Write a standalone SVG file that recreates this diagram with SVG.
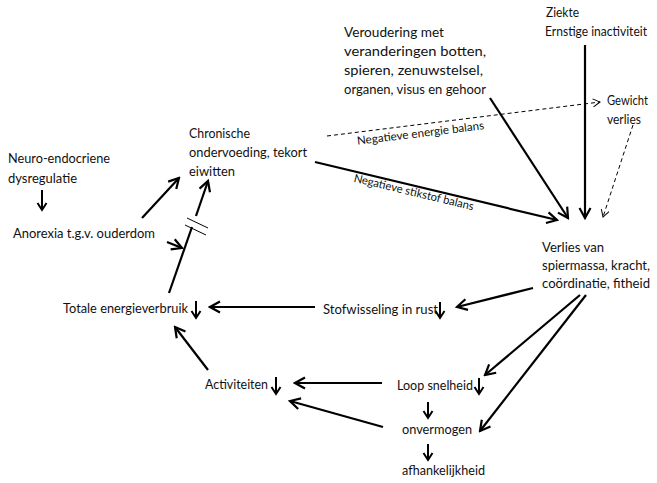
<svg xmlns="http://www.w3.org/2000/svg" width="657" height="483" viewBox="0 0 657 483">
<style>
text{font-family:Lato,"Open Sans","Liberation Sans",sans-serif;font-size:14px;fill:#111}
.lbl{font-size:11.5px}
.s{stroke:#000;stroke-width:2.2;fill:none;marker-end:url(#ah)}
.d{stroke:#000;stroke-width:1;stroke-dasharray:4 3;fill:none;marker-end:url(#ahd)}
.dn{stroke:#000;stroke-width:2;fill:none;marker-end:url(#ahs)}
.p{stroke:#000;stroke-width:2.2;fill:none}
.t{stroke:#000;stroke-width:1;fill:none}
</style>
<defs>
<marker id="ah" markerUnits="userSpaceOnUse" markerWidth="14" markerHeight="14" viewBox="-12 -7 14 14" refX="0" refY="0" orient="auto"><path d="M-10,-5.5 L0,0 L-10,5.5" fill="none" stroke="#000" stroke-width="2.2"/></marker>
<marker id="ahs" markerUnits="userSpaceOnUse" markerWidth="12" markerHeight="12" viewBox="-10 -6 12 12" refX="0" refY="0" orient="auto"><path d="M-7,-4.5 L0,0 L-7,4.5" fill="none" stroke="#000" stroke-width="2"/></marker>
<marker id="ahd" markerUnits="userSpaceOnUse" markerWidth="12" markerHeight="12" viewBox="-10 -6 12 12" refX="0" refY="0" orient="auto"><path d="M-7,-4 L0,0 L-7,4" fill="none" stroke="#000" stroke-width="1"/></marker>
</defs>
<g id="connectors">
<line class="dn" x1="42" y1="190" x2="42" y2="210"/>
<line class="s" x1="142" y1="218" x2="179" y2="178"/>
<line class="s" x1="167" y1="242" x2="182" y2="248"/>
<line class="p" x1="169" y1="293" x2="192" y2="227"/>
<line class="s" x1="196" y1="216" x2="208" y2="181"/>
<line class="t" x1="187" y1="218" x2="208" y2="228"/>
<line class="t" x1="185" y1="225" x2="206" y2="235"/>
<line class="d" x1="327" y1="136" x2="600" y2="102"/>
<line class="d" x1="633" y1="125" x2="603" y2="217"/>
<line class="s" x1="315" y1="162" x2="557" y2="220"/>
<line class="s" x1="490" y1="98" x2="568" y2="218"/>
<line class="s" x1="585" y1="45" x2="585" y2="218"/>
<line class="s" x1="533" y1="288" x2="457" y2="307"/>
<line class="s" x1="315" y1="307" x2="210" y2="307"/>
<line class="s" x1="208" y1="370" x2="175" y2="327"/>
<line class="s" x1="382" y1="383" x2="295" y2="383"/>
<line class="s" x1="383" y1="427" x2="290" y2="401"/>
<line class="s" x1="580" y1="295" x2="485" y2="375"/>
<line class="s" x1="586" y1="295" x2="480" y2="431"/>
<line class="dn" x1="428" y1="402" x2="428" y2="418"/>
<line class="dn" x1="428" y1="444" x2="428" y2="460"/>
<text class="lbl" transform="translate(421,137) rotate(-7)" text-anchor="middle" textLength="128" lengthAdjust="spacingAndGlyphs">Negatieve energie balans</text>
<text class="lbl" transform="translate(413,196) rotate(13.5)" text-anchor="middle" textLength="123" lengthAdjust="spacingAndGlyphs">Negatieve stikstof balans</text>
</g>
<g id="neuro"><text x="8" y="163" textLength="102" lengthAdjust="spacingAndGlyphs">Neuro-endocriene</text><text x="8" y="183" textLength="69" lengthAdjust="spacingAndGlyphs">dysregulatie</text></g>
<g id="anorexia"><text x="13" y="238" textLength="142" lengthAdjust="spacingAndGlyphs">Anorexia t.g.v. ouderdom</text></g>
<g id="chronische"><text x="189" y="138" textLength="61" lengthAdjust="spacingAndGlyphs">Chronische</text><text x="189" y="157" textLength="118" lengthAdjust="spacingAndGlyphs">ondervoeding, tekort</text><text x="189" y="176" textLength="46" lengthAdjust="spacingAndGlyphs">eiwitten</text></g>
<g id="veroudering"><text x="344" y="37" textLength="100" lengthAdjust="spacingAndGlyphs">Veroudering met</text><text x="344" y="56" textLength="142" lengthAdjust="spacingAndGlyphs">veranderingen botten,</text><text x="344" y="75" textLength="139" lengthAdjust="spacingAndGlyphs">spieren, zenuwstelsel,</text><text x="344" y="94" textLength="142" lengthAdjust="spacingAndGlyphs">organen, visus en gehoor</text></g>
<g id="ziekte"><text x="546" y="17" textLength="33" lengthAdjust="spacingAndGlyphs">Ziekte</text><text x="545" y="36" font-size="13" textLength="102" lengthAdjust="spacingAndGlyphs">Ernstige inactiviteit</text></g>
<g id="gewicht"><text x="607" y="105" textLength="41" lengthAdjust="spacingAndGlyphs">Gewicht</text><text x="607" y="124" textLength="34" lengthAdjust="spacingAndGlyphs">verlies</text></g>
<g id="verlies"><text x="542" y="252" textLength="62" lengthAdjust="spacingAndGlyphs">Verlies van</text><text x="542" y="270" textLength="108" lengthAdjust="spacingAndGlyphs">spiermassa, kracht,</text><text x="542" y="288" textLength="108" lengthAdjust="spacingAndGlyphs">coördinatie, fitheid</text></g>
<g id="stofwisseling"><text x="323" y="314" textLength="115" lengthAdjust="spacingAndGlyphs">Stofwisseling in rust</text><line class="dn" x1="440" y1="302" x2="440" y2="318"/></g>
<g id="totale"><text x="63" y="313" textLength="125" lengthAdjust="spacingAndGlyphs">Totale energieverbruik</text><line class="dn" x1="196" y1="301" x2="196" y2="318"/></g>
<g id="activiteiten"><text x="205" y="389" textLength="63" lengthAdjust="spacingAndGlyphs">Activiteiten</text><line class="dn" x1="276" y1="377" x2="276" y2="394"/></g>
<g id="loop"><text x="397" y="390" textLength="76" lengthAdjust="spacingAndGlyphs">Loop snelheid</text><line class="dn" x1="479" y1="378" x2="479" y2="394"/></g>
<g id="onvermogen"><text x="402" y="434" textLength="70" lengthAdjust="spacingAndGlyphs">onvermogen</text></g>
<g id="afhankelijkheid"><text x="402" y="475" textLength="83" lengthAdjust="spacingAndGlyphs">afhankelijkheid</text></g>
</svg>
